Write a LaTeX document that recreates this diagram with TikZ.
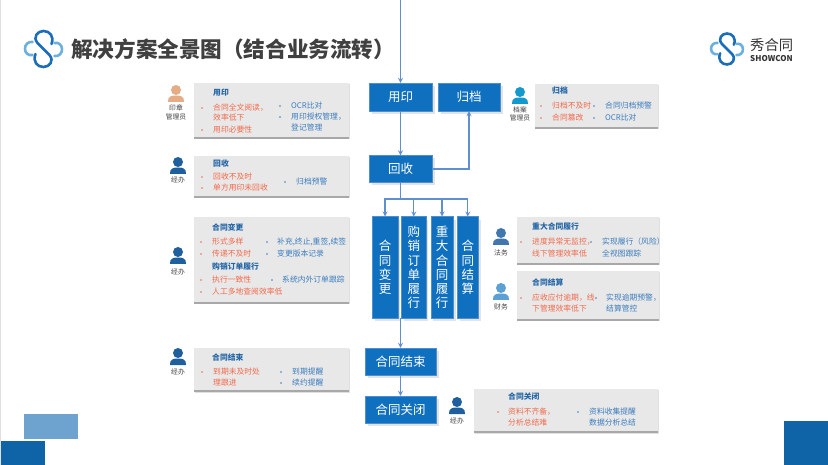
\documentclass[tikz,border=0pt]{standalone}
\usepackage{fontspec}
\setmainfont{Noto Sans CJK SC}
\usetikzlibrary{shadows,calc}
\definecolor{boxblue}{HTML}{0F70BF}
\definecolor{boxedge}{HTML}{4C8FD2}
\definecolor{linkblue}{HTML}{5F8FD0}
\definecolor{panelfill}{HTML}{E8E8E8}
\definecolor{panelrule}{HTML}{A8A8A8}
\definecolor{redtext}{HTML}{F4694A}
\definecolor{bluetext}{HTML}{3C7DBE}
\definecolor{headblue}{HTML}{2567A6}
\definecolor{darkblue}{HTML}{1F5F9E}
\definecolor{logodark}{HTML}{1C6DB8}
\definecolor{logolight}{HTML}{6CB0E0}
\definecolor{tan}{HTML}{E5AC85}
\definecolor{paleblock}{HTML}{6FA3CF}
\definecolor{deepblock}{HTML}{0F64A8}
\tikzset{
  stepbox/.style={draw=boxedge,fill=boxblue,text=white,inner sep=0pt,align=center,
    font=\fontsize{12.5}{14.2}\selectfont,
    drop shadow={opacity=0.22,shadow xshift=2.5pt,shadow yshift=-3pt}},
  link/.style={linkblue,line width=1.2pt},
  arrowlink/.style={link,-stealth},
  redline/.style={anchor=west,inner sep=0pt,text=redtext,font=\fontsize{7.8}{9}\selectfont},
  blueline/.style={anchor=west,inner sep=0pt,text=bluetext,font=\fontsize{7.8}{9}\selectfont},
  paneltitle/.style={anchor=west,inner sep=0pt,text=headblue,font=\fontsize{7.8}{9}\selectfont\bfseries},
  role/.style={inner sep=0pt,text=black!75,font=\fontsize{6.8}{8}\selectfont},
  logo/.pic={
    \draw[logolight,line width=2.6pt,line cap=round] (-11,-7) .. controls (-15,-8) and (-19,-4) .. (-18.5,0) .. controls (-18.5,4) and (-15,7) .. (-11,6);
    \draw[logolight,line width=2.6pt,line cap=round] (11,-6) .. controls (15,-7) and (18.5,-4) .. (18.5,0) .. controls (19,4) and (15,8) .. (11,7);
    \draw[logodark,line width=2.6pt,line cap=round] (8,-5) .. controls (11,-13) and (6,-18) .. (0,-18) .. controls (-6,-18) and (-11,-12) .. (-6,-6) -- (6,6) .. controls (11,12) and (6,18) .. (0,18) .. controls (-6,18) and (-11,13) .. (-8,5);
  }
}
\newcommand{\personicon}[3]{
  \fill[#3] (#1,#2) circle (5);
  \fill[#3] (#1-8,#2+12) .. controls (#1-8.5,#2+6) and (#1-4,#2+5.5) .. (#1,#2+5.5) .. controls (#1+4,#2+5.5) and (#1+8.5,#2+6) .. (#1+8,#2+12) -- cycle;
}
\newcommand{\panelbox}[4]{
  \fill[black!12] (#1+1,#2+1) rectangle (#3+1,#4+1.5);
  \fill[panelfill] (#1,#2) rectangle (#3,#4);
  \draw[panelrule,line width=1.3pt] (#1,#4) -- (#3,#4);
}
\begin{document}
\begin{tikzpicture}[x=1pt,y=-1pt]
\useasboundingbox (0,0) rectangle (828,465);
\fill[black!12] (0,0) rectangle (1.2,465);

% header
\pic at (43.5,49) {logo};
\node[anchor=west,inner sep=0pt,text=black!75,font=\fontsize{21.6}{24}\selectfont\bfseries] (title) at (71,49) {解决方案全景图（结合业务流转）};
\pic[scale=0.86] at (727,49) {logo};
\node[anchor=west,inner sep=0pt,text=black!80,font=\fontsize{14.3}{16}\selectfont] (brand) at (750,45) {秀合同};
\node[anchor=west,inner sep=0pt,text=black!80,font=\fontsize{8}{9}\selectfont\bfseries] (brandsub) at (750,59) {SHOWCON};

% corners
\fill[paleblock] (24,414) rectangle (78,439);
\fill[deepblock] (1,441) rectangle (45,465);
\fill[deepblock] (784,421) rectangle (828,465);

% flow
\node[stepbox,minimum width=63pt,minimum height=28pt] (yongyin) at (400.5,97) {用印};
\node[stepbox,minimum width=62pt,minimum height=28pt] (guidang) at (469,97) {归档};
\node[stepbox,minimum width=63pt,minimum height=27pt] (huishou) at (400.5,169) {回收};
\node[stepbox,minimum width=25.4pt,minimum height=101.6pt] (biangeng) at (385,267.5) {合\\同\\变\\更};
\node[stepbox,minimum width=24.3pt,minimum height=101.6pt] (gouxiao) at (413.8,267.5) {购\\销\\订\\单\\履\\行};
\node[stepbox,minimum width=22.6pt,minimum height=101.6pt] (zhongda) at (442,267.5) {重\\大\\合\\同\\履\\行};
\node[stepbox,minimum width=21pt,minimum height=101.6pt] (jiesuan) at (467.8,267.5) {合\\同\\结\\算};
\node[stepbox,minimum width=71pt,minimum height=27pt] (jieshu) at (400.5,361.5) {合同结束};
\node[stepbox,minimum width=71pt,minimum height=27pt] (guanbi) at (400.5,409.5) {合同关闭};

\coordinate (topin) at (400.5,0);
\coordinate (bus) at (400.5,199);
\coordinate (merge) at (400.5,318.3);
\draw[arrowlink] (topin) -- (yongyin);
\draw[arrowlink] (yongyin) -- (huishou);
\draw[arrowlink] (huishou.east) -| (guidang.south);
\draw[link] (huishou.south) -- (bus);
\draw[arrowlink] (bus) -| (biangeng.north);
\draw[arrowlink] (bus) -| (gouxiao.north);
\draw[arrowlink] (bus) -| (zhongda.north);
\draw[arrowlink] (bus) -| (jiesuan.north);
\draw[arrowlink] (merge) -- (jieshu);
\draw[arrowlink] (jieshu) -- (guanbi);

% yongyin panel
\panelbox{194}{83}{349}{138}
\personicon{176}{90}{tan}
\node[role] (r1a) at (176,108) {印章};
\node[role] (r1b) at (176,117) {管理员};
\node[paneltitle] (t1) at (213,93) {用印};
\node[redline] (a1) at (213,108) {合同全文阅读，};
\node[redline] (a2) at (213,118) {效率低下};
\node[redline] (a3) at (213,130) {用印必要性};
\node[blueline] (a4) at (291,106) {OCR比对};
\node[blueline] (a5) at (291,117) {用印授权管理，};
\node[blueline] (a6) at (291,128) {登记管理};
\fill[redtext] (202,108) circle (0.8);
\fill[redtext] (202,130) circle (0.8);
\fill[bluetext] (280,106) circle (0.8);
\fill[bluetext] (280,117) circle (0.8);

% huishou panel
\panelbox{194}{156}{349}{197}
\personicon{178}{162}{darkblue}
\node[role] (r2) at (178,180) {经办};
\node[paneltitle] (t2) at (213,164) {回收};
\node[redline] (b1) at (213,177) {回收不及时};
\node[redline] (b2) at (213,188) {单方用印未回收};
\node[blueline] (b3) at (296,182) {归档预警};
\fill[redtext] (202,177) circle (0.8);
\fill[redtext] (202,188) circle (0.8);
\fill[bluetext] (285,182) circle (0.8);

% biangeng panel
\panelbox{194}{217}{349}{303}
\personicon{178}{252}{darkblue}
\node[role] (r3) at (178,272) {经办};
\node[paneltitle] (t3) at (212,227) {合同变更};
\node[redline] (c1) at (212,242) {形式多样};
\node[redline] (c2) at (212,254) {传递不及时};
\node[blueline] (c3) at (277,242) {补充,终止,重签,续签};
\node[blueline] (c4) at (277,254) {变更版本记录};
\node[paneltitle] (t4) at (212,267) {购销订单履行};
\node[redline] (c5) at (212,280) {执行一致性};
\node[redline] (c6) at (212,292) {人工多地查阅效率低};
\node[blueline] (c7) at (282,280) {系统内外订单跟踪};
\fill[redtext] (201,242) circle (0.8);
\fill[redtext] (201,254) circle (0.8);
\fill[redtext] (201,280) circle (0.8);
\fill[redtext] (201,292) circle (0.8);
\fill[bluetext] (267,242) circle (0.8);
\fill[bluetext] (267,254) circle (0.8);
\fill[bluetext] (272,280) circle (0.8);

% jieshu panel
\panelbox{194}{348}{349}{391}
\personicon{178}{353}{darkblue}
\node[role] (r4) at (178,372) {经办};
\node[paneltitle] (t5) at (212,358) {合同结束};
\node[redline] (d1) at (213,372) {到期未及时处};
\node[redline] (d2) at (213,383) {理跟进};
\node[blueline] (d3) at (292,372) {到期提醒};
\node[blueline] (d4) at (292,383) {续约提醒};
\fill[redtext] (202,372) circle (0.8);
\fill[bluetext] (281,372) circle (0.8);
\fill[bluetext] (281,383) circle (0.8);

% guidang panel
\panelbox{535}{84}{658}{128}
\personicon{520}{92}{logodark!70!cyan}
\node[role] (r5a) at (520,110) {档案};
\node[role] (r5b) at (520,118) {管理员};
\node[paneltitle] (t6) at (552,91) {归档};
\node[redline] (e1) at (552,106) {归档不及时};
\node[redline] (e2) at (552,118) {合同篡改};
\node[blueline] (e3) at (605,106) {合同归档预警};
\node[blueline] (e4) at (605,118) {OCR比对};
\fill[redtext] (541,106) circle (0.8);
\fill[redtext] (541,118) circle (0.8);
\fill[bluetext] (594,106) circle (0.8);
\fill[bluetext] (594,118) circle (0.8);

% zhongda panel
\panelbox{517}{217}{659}{264}
\personicon{501}{233}{darkblue!85!white}
\node[role] (r6) at (501,253) {法务};
\node[paneltitle] (t7) at (532,227) {重大合同履行};
\node[redline] (f1) at (532,242) {进度异常无监控，};
\node[redline] (f2) at (532,254) {线下管理效率低};
\node[blueline] (f3) at (602,242) {实现履行（风险）};
\node[blueline] (f4) at (602,253) {全视图跟踪};
\fill[redtext] (521,242) circle (0.8);
\fill[bluetext] (591,242) circle (0.8);

% jiesuan panel
\panelbox{517}{271}{659}{320}
\personicon{501}{288}{logolight!80!darkblue}
\node[role] (r7) at (501,307) {财务};
\node[paneltitle] (t8) at (532,283) {合同结算};
\node[redline] (g1) at (532,298) {应收应付逾期，线};
\node[redline] (g2) at (532,309) {下管理效率低下};
\node[blueline] (g3) at (606,298) {实现逾期预警，};
\node[blueline] (g4) at (606,309) {结算管控};
\fill[redtext] (521,298) circle (0.8);
\fill[bluetext] (596,298) circle (0.8);

% guanbi panel
\panelbox{474}{389}{658}{432}
\personicon{457}{402}{darkblue}
\node[role] (r8) at (457,421) {经办};
\node[paneltitle] (t9) at (508,397) {合同关闭};
\node[redline] (h1) at (508,412) {资料不齐备，};
\node[redline] (h2) at (508,423) {分析总结难};
\node[blueline] (h3) at (589,412) {资料收集提醒};
\node[blueline] (h4) at (589,423) {数据分析总结};
\fill[redtext] (498,412) circle (0.8);
\fill[bluetext] (578,412) circle (0.8);
\end{tikzpicture}
\end{document}
